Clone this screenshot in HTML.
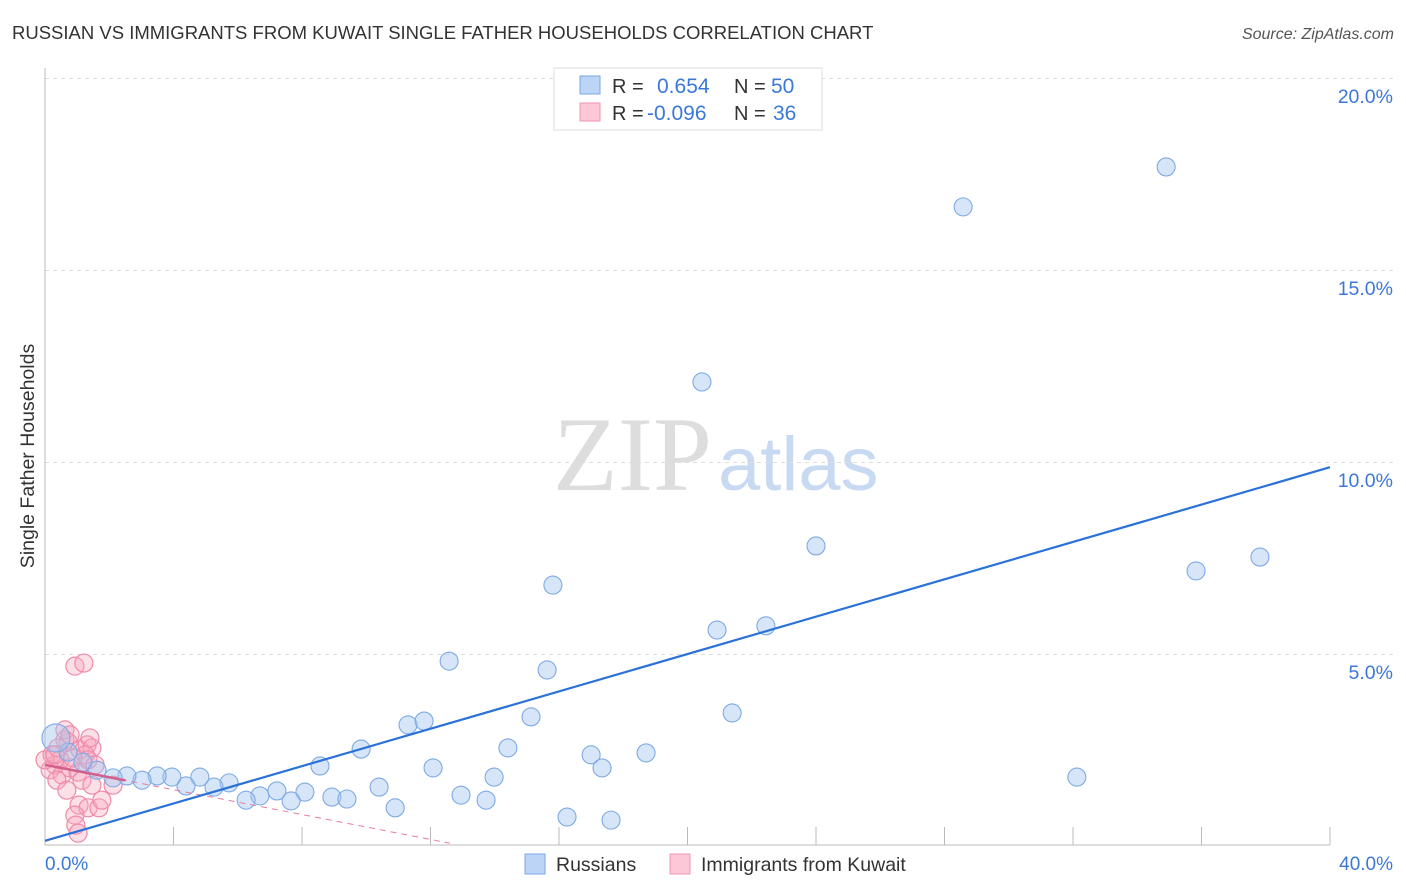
<!DOCTYPE html>
<html><head><meta charset="utf-8"><style>
body{margin:0;background:#fff;font-family:"Liberation Sans",sans-serif;}
svg{display:block}
</style></head><body>
<svg width="1406" height="892" id="c">
<text x="12" y="39" font-size="18.5" fill="#333">RUSSIAN VS IMMIGRANTS FROM KUWAIT SINGLE FATHER HOUSEHOLDS CORRELATION CHART</text>
<text x="1394" y="39" font-size="16" fill="#555" font-style="italic" text-anchor="end">Source: ZipAtlas.com</text>
<text x="34" y="456" font-size="19.5" fill="#333" text-anchor="middle" transform="rotate(-90 34 456)">Single Father Households</text>
<g><text x="553" y="490" font-size="106" fill="#ddd" font-family="Liberation Serif,serif">ZIP</text><text x="718" y="490" font-size="76" fill="#c8daf2">atlas</text></g>
<g id="grid"></g><g id="axes"></g><g id="marks"></g>
<g>
<rect x="554" y="68" width="268" height="62" fill="#fff" stroke="#ddd"/>
<rect x="580" y="76" width="20" height="18" fill="#bcd4f5" stroke="#7aa8e6"/>
<text x="612" y="93" font-size="20" fill="#333">R = </text><text x="657" y="93" font-size="21" fill="#3b78d8">0.654</text>
<text x="734" y="93" font-size="20" fill="#333">N = </text><text x="771" y="93" font-size="21" fill="#3b78d8">50</text>
<rect x="580" y="103" width="20" height="18" fill="#fcc8d8" stroke="#f095b2"/>
<text x="612" y="120" font-size="20" fill="#333">R = </text><text x="647" y="120" font-size="21" fill="#3b78d8">-0.096</text>
<text x="734" y="120" font-size="20" fill="#333">N = </text><text x="773" y="120" font-size="21" fill="#3b78d8">36</text>
</g>
<g>
<rect x="525" y="854" width="20" height="20" fill="#bcd4f5" stroke="#7aa8e6"/><text x="556" y="871" font-size="19.5" fill="#333">Russians</text>
<rect x="670" y="854" width="20" height="20" fill="#fcc8d8" stroke="#f095b2"/><text x="701" y="871" font-size="19.5" fill="#333">Immigrants from Kuwait</text>
</g>
</svg>
<script>
const xTicks=[0,4,8,12,16,20,24,28,32,36,40];
const yTicks=[5,10,15,20];
const xLabels=["0.0%","40.0%"];
const blueX=[28.58,34.9,20.45,24.0,35.83,37.82,15.81,20.92,22.44,12.58,15.63,15.13,21.39,11.3,11.8,9.84,14.41,17.0,18.71,8.56,12.08,17.34,13.98,32.12,10.4,12.95,13.73,8.93,9.4,8.09,7.22,7.66,6.69,6.26,10.9,16.25,17.62,5.73,5.26,4.82,4.39,3.95,3.49,3.02,2.55,2.12,1.62,1.18,0.72,0.34];
const blueY=[16.67,17.71,12.11,7.84,7.19,7.55,6.82,5.65,5.76,4.84,4.61,3.39,3.49,3.18,3.28,2.55,2.58,2.40,2.45,2.11,2.06,2.06,1.82,1.82,1.56,1.35,1.22,1.30,1.25,1.43,1.46,1.20,1.33,1.22,1.02,0.78,0.70,1.67,1.56,1.82,1.59,1.82,1.85,1.74,1.85,1.80,2.0,2.21,2.47,2.84];
const pinkX=[0.93,1.21,0.72,0.62,1.09,1.31,1.46,1.25,0.47,0.31,0.16,0.53,0.78,1.03,1.34,1.56,0.37,0.22,0.87,1.15,1.46,2.12,1.06,1.34,0.93,1.68,1.77,0.96,1.03,0.62,0.78,1.40,0.40,0.0,0.68,0.31];
const pinkY=[4.71,4.79,2.73,3.05,2.53,2.66,2.58,2.40,2.27,2.14,2.01,1.88,2.06,1.95,2.27,2.14,1.74,2.40,2.32,1.74,1.61,1.61,1.09,1.02,0.83,1.02,1.22,0.57,0.36,2.79,2.92,2.84,2.58,2.27,1.48,2.40];
const blueTrend=[0.16,9.89];
const pinkTrend=[2.14,0.10];
const X=v=>45+v*32.125, Y=v=>847-v*38.4;
const NS='http://www.w3.org/2000/svg';
function mk(t,a,p){const e=document.createElementNS(NS,t);for(const k in a)e.setAttribute(k,a[k]);p.appendChild(e);return e;}
const grid=document.getElementById('grid'),axes=document.getElementById('axes'),marks=document.getElementById('marks');
yTicks.forEach(v=>{
 const l=mk('line',{x1:45,x2:1395,y1:Y(v)-0.5,y2:Y(v)-0.5,stroke:'#ddd','stroke-dasharray':'4,4'},grid);
 
 
 const t=mk('text',{x:1393,y:Y(v)+24,'font-size':19.5,fill:'#3b78d8','text-anchor':'end'},axes);t.textContent=v.toFixed(1)+'%';
 
 
});
const ax=mk('path',{d:'M45,68V845H1330',fill:'none',stroke:'#bbb'},axes);


xTicks.forEach(v=>{const l=mk('line',{x1:X(v),x2:X(v),y1:827,y2:845,stroke:'#bbb'},axes);
 
 });
[[0,'start',45],[40,'end',1393]].forEach((d,i)=>{const t=mk('text',{x:d[2],y:870,'font-size':19,fill:'#3b78d8','text-anchor':d[1]},axes);t.textContent=xLabels[i];
 
 });
pinkX.forEach((x,i)=>{const c=mk('circle',{cx:X(x),cy:Y(pinkY[i]),r:9,fill:'rgba(245,165,190,0.35)',stroke:'#f08aaa','stroke-width':1.2},marks);
 
 });
blueX.forEach((x,i)=>{const c=mk('circle',{cx:X(x),cy:Y(blueY[i]),r:i==49?14:9,fill:'rgba(165,198,240,0.45)',stroke:'#7eaae4','stroke-width':1.1},marks);
 
 });
const pl=mk('line',{x1:X(0),y1:Y(pinkTrend[0]),x2:X(12.6),y2:Y(pinkTrend[1]),stroke:'#e87ca0','stroke-dasharray':'6,5','stroke-width':1},marks);


const ps=mk('line',{x1:X(0),y1:Y(pinkTrend[0]),x2:X(2.5),y2:Y(pinkTrend[0]+(pinkTrend[1]-pinkTrend[0])*2.5/12.6),stroke:'#d0608a','stroke-width':2.5},marks);


const bl=mk('line',{x1:X(0),y1:Y(blueTrend[0]),x2:X(40),y2:Y(blueTrend[1]),stroke:'#2a72d8','stroke-width':2.2},marks);


</script>
</body></html>
